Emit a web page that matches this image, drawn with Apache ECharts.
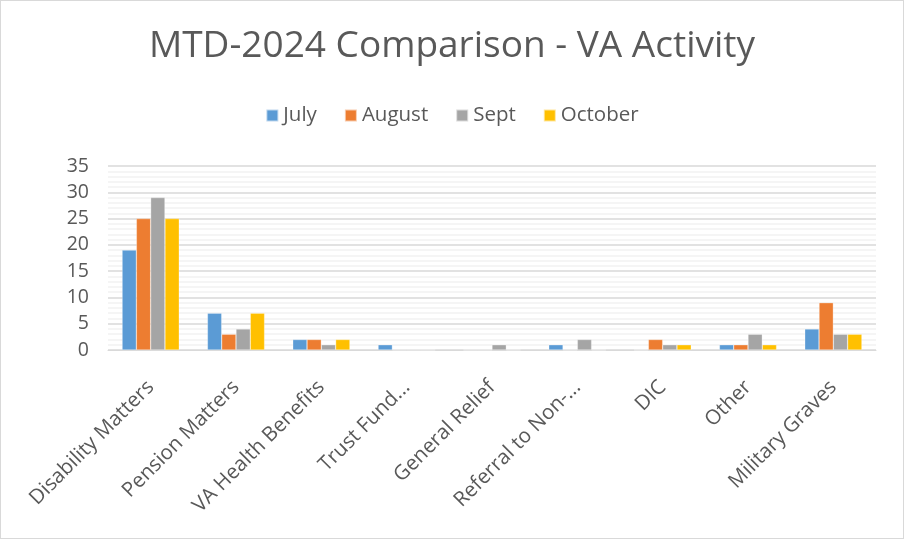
<!DOCTYPE html>
<html>
<head>
<meta charset="utf-8">
<script src="https://cdn.jsdelivr.net/npm/echarts@6/dist/echarts.min.js"></script>
<style>
html, body { margin: 0; padding: 0; background: #fff; }
#main {
  width: 904px;
  height: 539px;
  box-sizing: border-box;
  border: 1px solid #d9d9d9;
}
</style>
</head>
<body>
<div id="main"></div>
<script>
const categories = ['Disability Matters', 'Pension Matters', 'VA Health Benefits', 'Trust Fund...', 'General Relief', 'Referral to Non-...', 'DIC', 'Other', 'Military Graves']
const july = [19, 7, 2, 1, 0, 1, 0, 1, 4]
const august = [25, 3, 2, 0, 0, 0, 2, 1, 9]
const sept = [29, 4, 1, 0, 1, 2, 1, 3, 3]
const october = [25, 7, 2, 0, 0, 0, 1, 1, 3]

const names = ['July', 'August', 'Sept', 'October']
const colors = ['#5b9bd5', '#ed7d31', '#a5a5a5', '#ffc000']
const seriesData = [july, august, sept, october]

const font = '"Open Sans", sans-serif'
const chart = echarts.init(document.getElementById('main'))
chart.setOption({
  animation: false,
  textStyle: { fontFamily: font },
  title: {
    text: 'MTD-2024 Comparison - VA Activity',
    left: 'center',
    top: 22,
    textStyle: { color: '#595959', fontSize: 37, fontWeight: 'normal', fontFamily: font }
  },
  legend: {
    top: 99,
    left: 'center',
    itemWidth: 12,
    itemHeight: 12,
    itemGap: 27,
    icon: 'rect',
    textStyle: { color: '#595959', fontSize: 20.5, fontFamily: font },
    data: names
  },
  grid: {
    left: 107,
    right: 27,
    top: 165,
    bottom: 188
  },
  xAxis: {
    type: 'category',
    data: categories,
    axisLine: { show: true, lineStyle: { color: '#d9d9d9' } },
    axisTick: { show: false },
    axisLabel: {
      rotate: 45,
      interval: 0,
      color: '#595959',
      fontSize: 20.5,
      margin: 34,
      fontFamily: font
    }
  },
  yAxis: {
    type: 'value',
    min: 0,
    max: 35,
    interval: 5,
    axisLine: { show: false },
    axisTick: { show: false },
    axisLabel: { color: '#595959', fontSize: 19.5, margin: 19, fontFamily: font },
    splitLine: { lineStyle: { color: '#d9d9d9', width: 1.5 } },
    minorTick: { show: false, splitNumber: 5 },
    minorSplitLine: { show: true, lineStyle: { color: '#f2f2f2', width: 1.5 } }
  },
  series: seriesData.map((d, i) => ({
    name: names[i],
    type: 'bar',
    data: d,
    barGap: '0%',
    barCategoryGap: '33%',
    itemStyle: { color: colors[i], borderColor: 'rgba(255,255,255,0.6)', borderWidth: 0.5 }
  }))
})
</script>
</body>
</html>
